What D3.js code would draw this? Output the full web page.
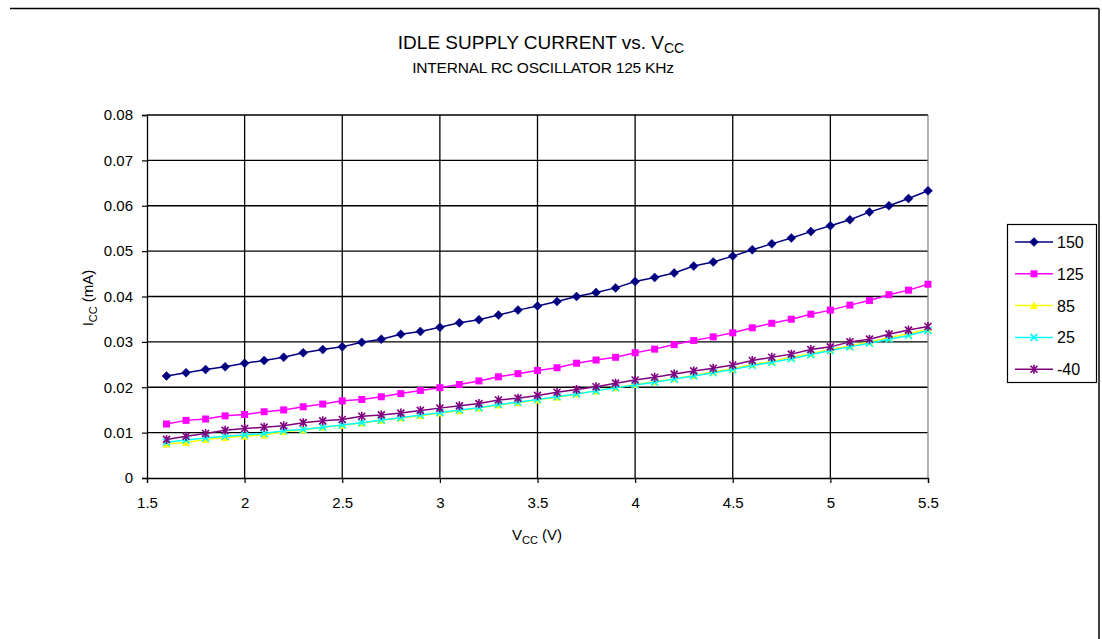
<!DOCTYPE html>
<html><head><meta charset="utf-8">
<script src="https://cdn.jsdelivr.net/npm/d3@7"></script>
<style>body{margin:0;background:#fff;}svg{display:block;font-family:"Liberation Sans",Arial,sans-serif;}</style>
</head><body>
<svg id="c" width="1102" height="639"></svg>
<script>
const vcc = d3.range(40).map(i => +(1.6 + i * 0.1).toFixed(1));
const s150 = [0.0225,0.0232,0.0239,0.0245,0.0253,0.0259,0.0266,0.0276,0.0283,0.0289,0.0299,0.0306,0.0317,0.0323,0.0332,0.0342,0.0349,0.0359,0.0370,0.0379,0.0389,0.0400,0.0409,0.0419,0.0433,0.0442,0.0452,0.0467,0.0476,0.0489,0.0503,0.0516,0.0529,0.0543,0.0556,0.0569,0.0586,0.0600,0.0616,0.0633];
const s125 = [0.0119,0.0127,0.0130,0.0137,0.0140,0.0146,0.0150,0.0157,0.0163,0.0170,0.0173,0.0179,0.0186,0.0193,0.0199,0.0206,0.0214,0.0223,0.0230,0.0237,0.0243,0.0253,0.0260,0.0266,0.0276,0.0284,0.0294,0.0303,0.0311,0.0320,0.0331,0.0341,0.0350,0.0361,0.0370,0.0381,0.0391,0.0404,0.0414,0.0427];
const s85 = [0.0075,0.0078,0.0085,0.0089,0.0092,0.0095,0.0102,0.0106,0.0112,0.0116,0.0121,0.0127,0.0132,0.0137,0.0143,0.0148,0.0154,0.0161,0.0166,0.0172,0.0178,0.0185,0.0192,0.0199,0.0206,0.0212,0.0219,0.0226,0.0234,0.0241,0.0250,0.0257,0.0266,0.0274,0.0283,0.0291,0.0300,0.0309,0.0318,0.0328];
const s25 = [0.0079,0.0084,0.0088,0.0092,0.0095,0.0098,0.0104,0.0107,0.0112,0.0117,0.0122,0.0128,0.0133,0.0139,0.0144,0.0150,0.0155,0.0162,0.0167,0.0173,0.0179,0.0185,0.0192,0.0199,0.0205,0.0211,0.0218,0.0225,0.0232,0.0239,0.0248,0.0255,0.0263,0.0272,0.0281,0.0289,0.0297,0.0306,0.0314,0.0325];
const sM40 = [0.0085,0.0092,0.0098,0.0105,0.0109,0.0112,0.0115,0.0122,0.0126,0.0129,0.0136,0.0139,0.0143,0.0149,0.0154,0.0159,0.0164,0.0172,0.0176,0.0182,0.0189,0.0195,0.0201,0.0209,0.0216,0.0222,0.0229,0.0236,0.0242,0.0249,0.0259,0.0266,0.0273,0.0283,0.0289,0.0300,0.0306,0.0317,0.0326,0.0334];
const seriesNames = ["150","125","85","25","-40"];
const seriesColors = ["#000080","#FF00FF","#FFFF00","#00FFFF","#800080"];
const seriesMarkers = ["diamond","square","triangle","x","star"];
const seriesValues = [s150, s125, s85, s25, sM40];
const xTicks = [1.5,2,2.5,3,3.5,4,4.5,5,5.5];
const yTicks = [0,0.01,0.02,0.03,0.04,0.05,0.06,0.07,0.08];

const svg = d3.select("#c");
const L = 147, R = 928, T = 115, B = 478;
const x = d3.scaleLinear().domain([1.5,5.5]).range([L,R]);
const y = d3.scaleLinear().domain([0,0.08]).range([B,T]);

// outer frame (top and right visible)
svg.append("line").attr("x1",10).attr("x2",1099).attr("y1",8.5).attr("y2",8.5).attr("stroke","#000").attr("stroke-width",1.5);
svg.append("line").attr("x1",1099).attr("x2",1099).attr("y1",8.5).attr("y2",639).attr("stroke","#000").attr("stroke-width",1.5);

// grid
const g = svg.append("g");
g.selectAll(".hg").data(yTicks.slice(1)).join("line")
  .attr("x1",L).attr("x2",R).attr("y1",d=>y(d)).attr("y2",d=>y(d)).attr("stroke","#000").attr("stroke-width",1.3);
g.selectAll(".vg").data(xTicks.slice(1,-1)).join("line")
  .attr("y1",T).attr("y2",B).attr("x1",d=>x(d)).attr("x2",d=>x(d)).attr("stroke","#000").attr("stroke-width",1.3);
g.append("line").attr("x1",R).attr("x2",R).attr("y1",T).attr("y2",B).attr("stroke","#888").attr("stroke-width",1.3);

// axes
const xa = svg.append("g").attr("transform",`translate(0,${B})`)
  .call(d3.axisBottom(x).tickValues(xTicks).tickSize(5).tickPadding(14).tickFormat(d3.format("")));
const ya = svg.append("g").attr("transform",`translate(${L},0)`)
  .call(d3.axisLeft(y).tickValues(yTicks).tickSize(5).tickPadding(9).tickFormat(d=>d===0?"0":d3.format(".2f")(d)));
[xa,ya].forEach(a=>{
  a.select(".domain").attr("stroke","#000").attr("stroke-width",1.3);
  a.selectAll(".tick line").attr("stroke","#000").attr("stroke-width",1.2);
  a.selectAll(".tick text").attr("fill","#000").style("font-size","15px").style("font-family","Liberation Sans, Arial, sans-serif");
});

// markers
function drawMarker(sel, type, color){
  if(type==="diamond"){
    sel.append("path").attr("d","M0,-4.5L4.5,0L0,4.5L-4.5,0Z").attr("fill",color).attr("stroke",color).attr("stroke-width",0.5);
  } else if(type==="square"){
    sel.append("rect").attr("x",-3.5).attr("y",-3.5).attr("width",7).attr("height",7).attr("fill",color);
  } else if(type==="triangle"){
    sel.append("path").attr("d","M0,-4L4,3.5L-4,3.5Z").attr("fill",color);
  } else if(type==="x"){
    sel.append("path").attr("d","M-3.5,-3.5L3.5,3.5M-3.5,3.5L3.5,-3.5").attr("stroke",color).attr("stroke-width",1.6);
  } else {
    sel.append("path").attr("d","M-3.5,-3.5L3.5,3.5M-3.5,3.5L3.5,-3.5M0,-4.5L0,4.5").attr("stroke",color).attr("stroke-width",1.6);
  }
}

const line = d3.line().x((d,i)=>x(vcc[i])).y(d=>y(d));
const order = [2,3,4,1,0];
order.forEach(k=>{
  const vals = seriesValues[k];
  svg.append("path").datum(vals).attr("d",line).attr("fill","none").attr("stroke",seriesColors[k]).attr("stroke-width",1.5);
  svg.append("g").selectAll("g").data(vals).join("g")
    .attr("transform",(d,i)=>`translate(${x(vcc[i])},${y(d)})`)
    .each(function(){ drawMarker(d3.select(this), seriesMarkers[k], seriesColors[k]); });
});

// titles
const t = svg.append("text").attr("x",541).attr("y",49).attr("text-anchor","middle").style("font-size","19px").attr("fill","#000");
t.append("tspan").text("IDLE SUPPLY CURRENT vs. V");
t.append("tspan").attr("dy",4).style("font-size","14px").text("CC");
svg.append("text").attr("x",543).attr("y",73).attr("text-anchor","middle").style("font-size","15.5px").attr("fill","#000").style("letter-spacing","-0.2px").text("INTERNAL RC OSCILLATOR 125 KHz");

// axis titles
const xt = svg.append("text").attr("x",537).attr("y",540).attr("text-anchor","middle").style("font-size","15px").attr("fill","#000");
xt.append("tspan").text("V");
xt.append("tspan").attr("dy",4).style("font-size","11px").text("CC");
xt.append("tspan").attr("dy",-4).text(" (V)");
const yt = svg.append("text").attr("transform","translate(93,298) rotate(-90)").attr("text-anchor","middle").style("font-size","15px").attr("fill","#000");
yt.append("tspan").text("I");
yt.append("tspan").attr("dy",4).style("font-size","11px").text("CC");
yt.append("tspan").attr("dy",-4).text(" (mA)");

// legend
const lg = svg.append("g");
lg.append("rect").attr("x",1007.5).attr("y",224.5).attr("width",89).attr("height",158).attr("fill","#fff").attr("stroke","#000").attr("stroke-width",1.2);
seriesNames.forEach((n,i)=>{
  const yy = 242 + i*31.8;
  lg.append("line").attr("x1",1015).attr("x2",1053).attr("y1",yy).attr("y2",yy).attr("stroke",seriesColors[i]).attr("stroke-width",1.5);
  drawMarker(lg.append("g").attr("transform",`translate(1034,${yy})`), seriesMarkers[i], seriesColors[i]);
  lg.append("text").attr("x",1057).attr("y",yy+6).style("font-size",'16px').attr("fill","#000").text(n);
});
</script>
</body></html>
